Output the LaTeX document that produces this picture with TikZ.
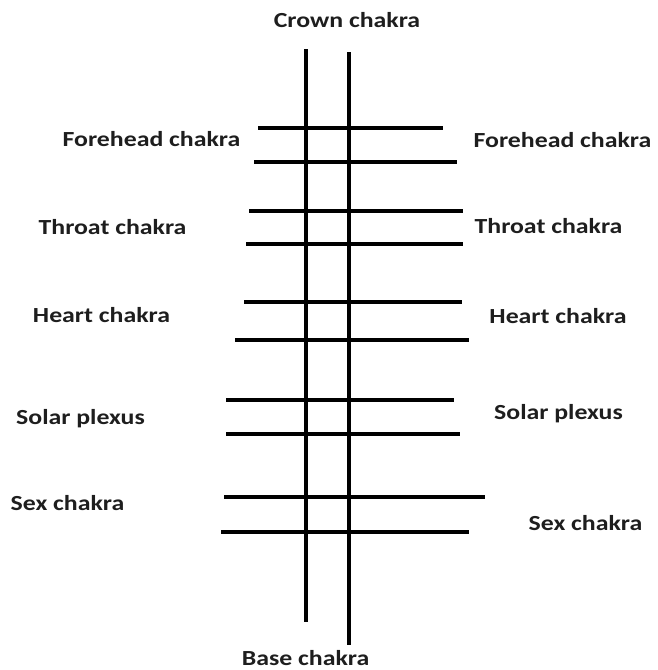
\documentclass[tikz,border=0pt]{standalone}
\usepackage{fontspec}
\usepackage{graphicx}
\setmainfont{Carlito}
\definecolor{txt}{HTML}{1E1E1E}
\tikzset{
  lbl/.style={anchor=base, inner sep=0pt, text=txt, font=\fontsize{21.5}{22}\selectfont\bfseries},
  bar/.style={line width=4pt, line cap=butt, black}
}
\newcommand{\wide}[1]{\scalebox{1.2}[1]{#1}}
\begin{document}
\begin{tikzpicture}[x=1pt,y=-1pt]
\useasboundingbox[fill=white] (0,0) rectangle (657,670);
% vertical lines
\draw[bar] (306,49) -- (306,622);
\draw[bar] (349,52) -- (349,645);
% horizontal lines
\draw[bar] (258,128) -- (443,128);
\draw[bar] (254,162) -- (457,162);
\draw[bar] (249,211) -- (463,211);
\draw[bar] (246,244) -- (463,244);
\draw[bar] (244,302) -- (462,302);
\draw[bar] (235,340) -- (469,340);
\draw[bar] (226,400) -- (454,400);
\draw[bar] (226,434) -- (460,434);
\draw[bar] (224,497) -- (485,497);
\draw[bar] (221,532) -- (469,532);
% labels
\node[lbl] (crown) at (347,27) {\wide{Crown chakra}};
\node[lbl] (foreL) at (151.5,146) {\wide{Forehead chakra}};
\node[lbl] (foreR) at (562.5,147) {\wide{Forehead chakra}};
\node[lbl] (throatL) at (112.5,234) {\wide{Throat chakra}};
\node[lbl] (throatR) at (548.5,233) {\wide{Throat chakra}};
\node[lbl] (heartL) at (101.5,322) {\wide{Heart chakra}};
\node[lbl] (heartR) at (558,323) {\wide{Heart chakra}};
\node[lbl] (solarL) at (80.5,424) {\wide{Solar plexus}};
\node[lbl] (solarR) at (558.5,419) {\wide{Solar plexus}};
\node[lbl] (sexL) at (67.5,510) {\wide{Sex chakra}};
\node[lbl] (sexR) at (585.5,530) {\wide{Sex chakra}};
\node[lbl] (base) at (305.5,665) {\wide{Base chakra}};
\end{tikzpicture}
\end{document}
